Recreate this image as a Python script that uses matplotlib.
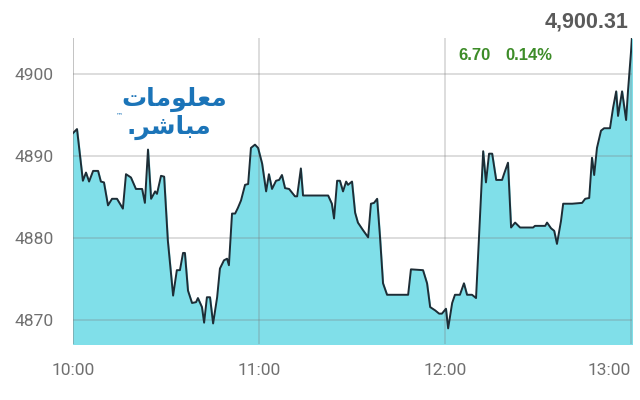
import matplotlib
matplotlib.use('Agg')
import matplotlib.pyplot as plt

# minutes after 10:00 and index level
minutes = [0.0, 1.3, 3.2, 4.2, 5.2, 6.5, 8.1, 9.0, 10.0, 11.3, 12.6, 14.2, 16.1, 17.1,
           18.7, 20.3, 22.3, 23.2, 24.2, 25.2, 26.5, 27.1, 28.4, 29.4, 30.6, 32.3,
           33.5, 34.5, 35.5, 36.1, 37.1, 38.4, 39.7, 40.3, 41.6, 42.3, 43.2, 44.2,
           45.2, 46.5, 47.4, 48.7, 49.7, 50.3, 51.3, 52.3, 53.2, 54.2, 55.5, 56.5,
           57.4, 58.7, 59.7, 61.0, 62.3, 63.2, 64.2, 65.5, 66.5, 67.4, 68.4, 69.7,
           71.6, 72.3, 73.5, 74.2, 82.3, 83.5, 84.2, 85.2, 86.1, 87.1, 88.1, 88.7,
           90.0, 91.0, 91.9, 93.5, 95.2, 96.1, 97.1, 98.1, 99.0, 100.0, 101.3, 108.1,
           109.0, 112.9, 114.2, 115.2, 116.8, 118.1, 119.0, 120.3, 121.0, 122.3,
           123.2, 124.8, 126.1, 127.1, 128.7, 130.0, 132.3, 133.2, 134.2, 135.2,
           136.5, 138.4, 139.0, 140.3, 141.3, 142.6, 144.2, 148.4, 149.0, 152.3,
           152.9, 154.2, 155.2, 156.1, 157.4, 158.1, 161.0, 164.2, 165.2, 166.5,
           167.4, 168.1, 169.0, 170.3, 171.3, 173.2, 174.2, 175.2, 175.8, 177.1,
           178.4, 179.0, 180.3]
prices = [4892.8, 4893.3, 4887.0, 4888.0, 4886.9, 4888.2, 4888.2, 4886.9, 4886.8, 4884.0,
          4884.8, 4884.8, 4883.6, 4887.8, 4887.4, 4886.0, 4886.0, 4884.3, 4890.8, 4884.8,
          4885.7, 4885.4, 4887.6, 4887.5, 4879.7, 4873.0, 4876.1, 4876.1, 4878.2, 4878.2,
          4873.6, 4872.1, 4872.2, 4872.7, 4871.6, 4869.7, 4872.8, 4872.8, 4869.6, 4872.8,
          4876.3, 4877.3, 4877.5, 4876.7, 4883.0, 4883.0, 4883.7, 4884.6, 4886.5, 4886.6,
          4891.0, 4891.4, 4891.0, 4889.1, 4885.7, 4887.8, 4886.0, 4887.0, 4887.1, 4887.7,
          4886.1, 4886.0, 4885.1, 4885.1, 4888.5, 4885.2, 4885.2, 4884.2, 4882.4, 4887.0,
          4887.0, 4885.7, 4886.9, 4886.5, 4886.9, 4883.1, 4881.9, 4881.0, 4880.1, 4884.2,
          4884.3, 4884.8, 4880.3, 4874.5, 4873.1, 4873.1, 4876.2, 4876.1, 4874.5, 4871.6,
          4871.2, 4870.8, 4870.8, 4871.4, 4869.0, 4872.1, 4873.1, 4873.1, 4874.5, 4873.1,
          4873.1, 4872.7, 4890.6, 4886.8, 4890.3, 4890.3, 4887.1, 4887.1, 4887.8, 4889.2,
          4881.3, 4881.9, 4881.3, 4881.3, 4881.5, 4881.5, 4881.9, 4881.2, 4880.9, 4879.3,
          4882.1, 4884.2, 4884.2, 4884.3, 4884.8, 4884.9, 4889.8, 4887.7, 4891.0, 4893.1,
          4893.4, 4893.4, 4895.9, 4897.9, 4894.9, 4897.9, 4894.4, 4897.9, 4904.3]

x_ticks = [0, 60, 120, 180]
x_labels = ['10:00', '11:00', '12:00', '13:00']
y_ticks = [4870, 4880, 4890, 4900]

last_value = '4,900.31'
change = '6.70'
change_pct = '0.14%'

fig = plt.figure(figsize=(6.4, 4.0), dpi=100)
ax = fig.add_axes([0.114, 0.14, 0.8735, 0.765])

ax.fill_between(minutes, prices, 4860, color='#80dfe9', zorder=1)
ax.plot(minutes, prices, color='#1e2d36', lw=1.4, zorder=3)

ax.set_xlim(0, 180.3)
ax.set_ylim(4867.1, 4904.4)
ax.set_xticks(x_ticks)
ax.set_xticklabels(x_labels)
ax.set_yticks(y_ticks)
ax.set_yticklabels([str(v) for v in y_ticks])
ax.grid(True, color='#7a7a7a', alpha=0.28, lw=1.3, zorder=2)
ax.set_axisbelow(False)
for s in ax.spines.values():
    s.set_visible(False)
ax.axvline(0, color='#7a7a7a', alpha=0.28, lw=1.3, zorder=2)

ax.tick_params(length=0, labelcolor='#707070', labelsize=12.5, pad=14)
for lab in ax.get_xticklabels() + ax.get_yticklabels():
    lab.set_family('Roboto')
ax.get_xticklabels()[-1].set_horizontalalignment('right')

fig.text(0.982, 0.945, last_value, ha='right', va='center', fontsize=15.5,
         fontweight='bold', color='#5a5a5a', family=['Liberation Sans', 'DejaVu Sans'])
fig.text(0.716, 0.86, change, ha='left', va='center', fontsize=12,
         fontweight='bold', color='#3d8c28', family=['Liberation Sans', 'DejaVu Sans'])
fig.text(0.789, 0.86, change_pct, ha='left', va='center', fontsize=12,
         fontweight='bold', color='#3d8c28', family=['Liberation Sans', 'DejaVu Sans'])

# logo: "معلومات مباشر" in shaped presentation forms, visual order
fig.text(0.273, 0.752, '\uFE95\uFE8E\uFEE3\uFEEE\uFEE0\uFECC\uFEE3', ha='center', va='center',
         fontsize=18, fontweight='bold', color='#1b74b8', family='DejaVu Sans')
fig.text(0.264, 0.682, '.\uFEAE\uFEB7\uFE8E\uFE92\uFEE3', ha='center', va='center',
         fontsize=18, fontweight='bold', color='#1b74b8', family='DejaVu Sans')
fig.text(0.186, 0.712, '\u2122', ha='center', va='center', fontsize=5,
         color='#1b74b8', family='DejaVu Sans')

fig.savefig('out.png', dpi=100)
